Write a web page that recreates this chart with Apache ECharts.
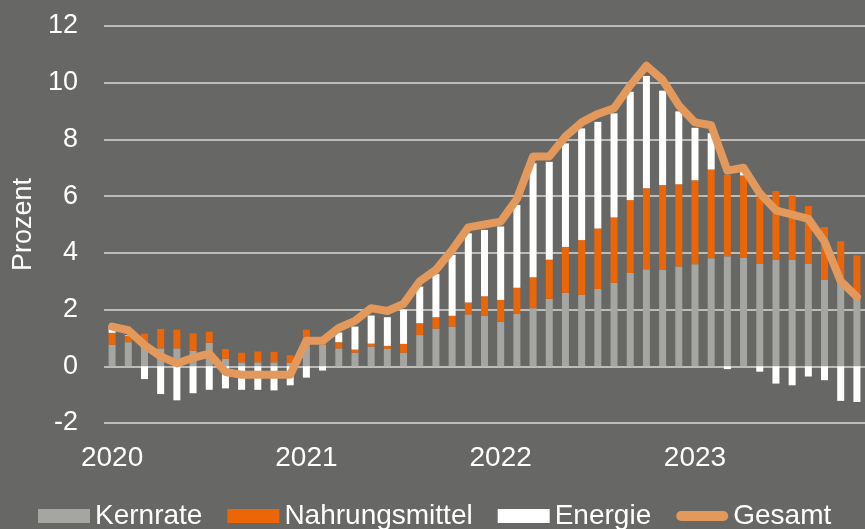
<!DOCTYPE html>
<html>
<head>
<meta charset="utf-8">
<script src="https://cdn.jsdelivr.net/npm/echarts@6/dist/echarts.min.js"></script>
<style>
  html, body { margin: 0; padding: 0; background: #676765; }
  #chart { width: 865px; height: 529px; }
</style>
</head>
<body>
<div id="chart"></div>
<script>
// Monate Jan 2020 bis Nov 2023
const years = ['2020', '2021', '2022', '2023'];
const months = [];
years.forEach(y => {
  for (let m = 1; m <= 12; m++) {
    if (y === '2023' && m > 11) break;
    months.push(y + '-' + String(m).padStart(2, '0'));
  }
});

// Beiträge in Prozentpunkten
const kernrate = [
  0.76, 0.85, 0.70, 0.63, 0.63, 0.55, 0.83, 0.27, 0.14, 0.14, 0.14, 0.12,
  1.00, 0.75, 0.63, 0.48, 0.70, 0.62, 0.48, 1.10, 1.33, 1.40, 1.83, 1.78,
  1.57, 1.86, 2.05, 2.38, 2.59, 2.52, 2.73, 2.94, 3.29, 3.42, 3.41, 3.52,
  3.60, 3.81, 3.88, 3.82, 3.61, 3.76, 3.76, 3.61, 3.06, 2.95, 2.50
];
const nahrungsmittel = [
  0.42, 0.22, 0.45, 0.69, 0.66, 0.61, 0.39, 0.34, 0.34, 0.38, 0.37, 0.27,
  0.29, 0.20, 0.22, 0.11, 0.10, 0.10, 0.31, 0.42, 0.40, 0.38, 0.42, 0.69,
  0.77, 0.91, 1.09, 1.38, 1.62, 1.93, 2.13, 2.31, 2.57, 2.86, 2.98, 2.90,
  2.96, 3.13, 2.87, 2.91, 2.33, 2.42, 2.26, 2.04, 1.85, 1.46, 1.41
];
const energie = [
  0.20, 0.02, -0.45, -0.98, -1.20, -0.95, -0.83, -0.78, -0.83, -0.83, -0.85, -0.67,
  -0.40, -0.15, 0.34, 0.81, 0.99, 1.01, 1.21, 1.29, 1.52, 2.15, 2.44, 2.34,
  2.59, 2.92, 4.02, 3.45, 3.65, 3.94, 3.76, 3.67, 3.82, 3.96, 3.33, 2.57,
  1.85, 1.28, -0.10, 0.20, -0.19, -0.61, -0.67, -0.36, -0.49, -1.22, -1.26
];
const gesamt = [
  1.40, 1.27, 0.75, 0.35, 0.10, 0.30, 0.45, -0.20, -0.30, -0.30, -0.30, -0.30,
  0.90, 0.90, 1.35, 1.60, 2.05, 1.95, 2.20, 3.00, 3.40, 4.10, 4.90, 5.00,
  5.10, 5.90, 7.40, 7.40, 8.10, 8.60, 8.90, 9.10, 9.90, 10.60, 10.10, 9.20,
  8.60, 8.50, 6.90, 7.00, 6.10, 5.50, 5.35, 5.20, 4.40, 3.00, 2.45
];

const yTicks = { min: -2, max: 12, step: 2 };

const font = 'Liberation Sans, Arial, sans-serif';
const chart = echarts.init(document.getElementById('chart'));

// Kapsel als Legendensymbol für die Linie
const capsuleIcon = 'path://M0,0 M52,14 M5,2 L47,2 A5,5 0 0 1 47,12 L5,12 A5,5 0 0 1 5,2 Z';

const barSeries = (name, data, color) => ({
  name,
  type: 'bar',
  stack: 'beitrag',
  data,
  barWidth: 7,
  itemStyle: { color },
  emphasis: { disabled: true }
});

chart.setOption({
  backgroundColor: '#676765',
  animation: false,
  textStyle: { fontFamily: font },
  grid: { left: 104, right: 0, top: 26, bottom: 106 },
  legend: {
    left: 38,
    top: 502,
    padding: 0,
    itemWidth: 52,
    itemHeight: 14,
    itemGap: 25,
    textStyle: { color: '#ffffff', fontSize: 28, fontFamily: font },
    data: [
      { name: 'Kernrate', icon: 'rect' },
      { name: 'Nahrungsmittel', icon: 'rect' },
      { name: 'Energie', icon: 'rect' },
      { name: 'Gesamt', icon: capsuleIcon }
    ]
  },
  xAxis: {
    type: 'category',
    data: months,
    axisLine: { show: false, onZero: false },
    axisTick: { show: false },
    axisLabel: {
      color: '#ffffff',
      fontSize: 28,
      margin: 21,
      interval: (i) => i % 12 === 0,
      formatter: (v) => v.slice(0, 4)
    }
  },
  yAxis: {
    type: 'value',
    min: yTicks.min,
    max: yTicks.max,
    interval: yTicks.step,
    name: 'Prozent',
    nameLocation: 'middle',
    nameRotate: 90,
    nameGap: 66,
    nameTextStyle: { color: '#ffffff', fontSize: 27 },
    axisLabel: { color: '#ffffff', fontSize: 27, margin: 26 },
    splitLine: { lineStyle: { color: '#d9d9d9', width: 1.5 } }
  },
  series: [
    barSeries('Kernrate', kernrate, '#a5a5a1'),
    barSeries('Nahrungsmittel', nahrungsmittel, '#ec6608'),
    barSeries('Energie', energie, '#ffffff'),
    {
      name: 'Gesamt',
      type: 'line',
      data: gesamt,
      symbol: 'none',
      z: 5,
      lineStyle: { color: '#e3985c', width: 8, cap: 'round', join: 'round' },
      itemStyle: { color: '#e3985c' }
    }
  ]
});
</script>
</body>
</html>
